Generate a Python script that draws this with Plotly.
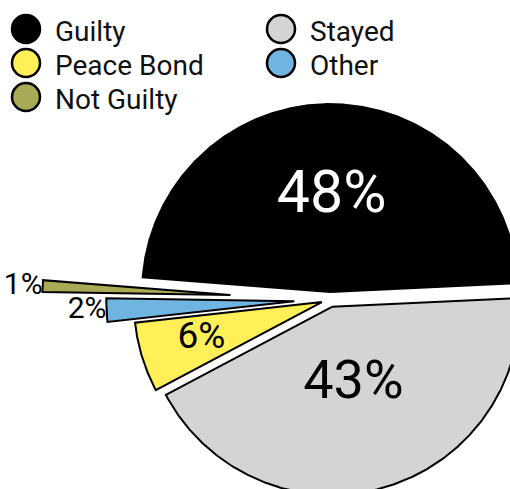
import numpy as np
import plotly.graph_objects as go

# Case outcomes (share of cases, %)
labels = ["Guilty", "Stayed", "Peace Bond", "Other", "Not Guilty"]
values = [48, 43, 6, 2, 1]

# Styling per slice
colors = ["#000000", "#D4D4D4", "#FFF05A", "#70B4E2", "#A9AA55"]
text_colors = ["#FFFFFF", "#000000", "#000000", "#000000", "#000000"]
text_sizes = [59, 54, 37, 30, 30]
pull_out = [0.04, 0.04, 0.045, 0.19, 0.53]        # fraction of radius
label_radius = [0.505, 0.43, 0.67, 1.0, 1.0]      # fraction of radius
label_anchor = ["middle center", "middle center", "middle center",
                "middle left", "middle left"]

FONT = "Roboto, 'Liberation Sans', sans-serif"
W, H = 510, 489

# Pie geometry in canvas pixels (y grows downward)
CX, CY, R = 330.0, 299.6, 188.0
START_DEG = 175.5          # first slice starts here, slices run clockwise

total = float(sum(values))
fig = go.Figure()

label_x, label_y, label_txt = [], [], []
cum = 0.0
for lab, val, col, pull, lr in zip(labels, values, colors, pull_out, label_radius):
    a0 = START_DEG - 360.0 * cum / total
    a1 = a0 - 360.0 * val / total
    cum += val
    mid = np.radians((a0 + a1) / 2)
    vx = CX + pull * R * np.cos(mid)
    vy = CY - pull * R * np.sin(mid)
    n = max(int(abs(a0 - a1) * 2), 4)
    th = np.radians(np.linspace(a0, a1, n))
    xs = np.concatenate([[vx], vx + R * np.cos(th), [vx]])
    ys = np.concatenate([[vy], vy - R * np.sin(th), [vy]])
    fig.add_trace(go.Scatter(
        x=xs, y=ys, mode="lines", fill="toself", fillcolor=col,
        line=dict(color="#000000", width=2), name=lab,
        hoverinfo="text", hoveron="fills",
        text=f"{lab}: {val}%", showlegend=False,
    ))
    label_x.append(vx + lr * R * np.cos(mid))
    label_y.append(vy - lr * R * np.sin(mid))
    label_txt.append(f"{val}%")

# Percentage labels
fig.add_trace(go.Scatter(
    x=label_x, y=label_y, mode="text", text=label_txt,
    textposition=label_anchor,
    textfont=dict(family=FONT, size=text_sizes, color=text_colors),
    hoverinfo="skip", showlegend=False,
))

# Two-column legend with large round swatches
col_x = [26, 281]
row_y = [29, 63, 97]
radius = 14
shapes = []
annotations = []
for i, (lab, col) in enumerate(zip(labels, colors)):
    cx = col_x[i % 2]
    cy = row_y[i // 2]
    shapes.append(dict(
        type="circle", xref="x", yref="y",
        x0=cx - radius, x1=cx + radius, y0=cy - radius, y1=cy + radius,
        fillcolor=col, line=dict(color="#000000", width=2.5),
    ))
    annotations.append(dict(
        text=lab, xref="x", yref="y",
        x=cx + 27, y=cy + 2, xanchor="left", yanchor="middle",
        showarrow=False, font=dict(family=FONT, size=28, color="#111111"),
    ))

fig.update_layout(
    width=W, height=H,
    margin=dict(l=0, r=0, t=0, b=0),
    paper_bgcolor="#FFFFFF",
    plot_bgcolor="#FFFFFF",
    xaxis=dict(range=[0, W], visible=False, fixedrange=True),
    yaxis=dict(range=[H, 0], visible=False, fixedrange=True),
    shapes=shapes,
    annotations=annotations,
)

fig.write_html("out.html")
